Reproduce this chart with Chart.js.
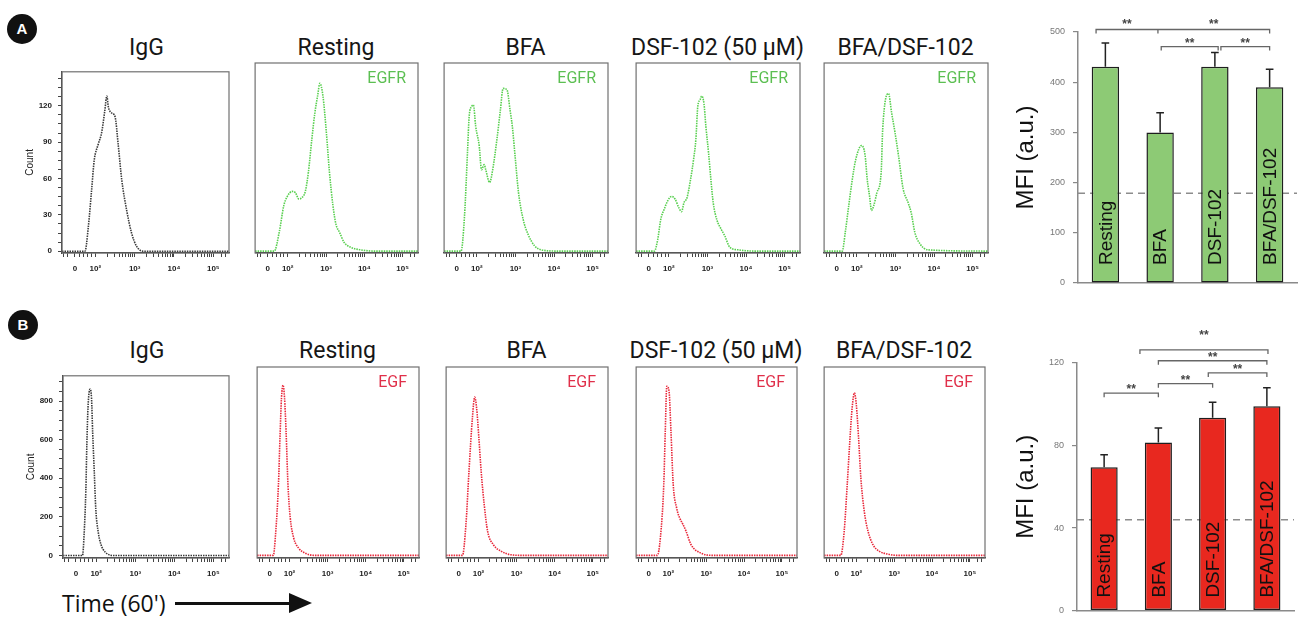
<!DOCTYPE html>
<html>
<head>
<meta charset="utf-8">
<script src="https://cdn.jsdelivr.net/npm/chart.js@4.4.1/dist/chart.umd.min.js"></script>
<style>
  body { margin: 0; background: #fff; }
  #fig { position: relative; width: 1300px; height: 624px; overflow: hidden; background: #fff; }
  .title { position: absolute; transform: translateX(-50%); white-space: nowrap; font: 23px Roboto, sans-serif; line-height: 23px; color: #161616; }
  .badge { position: absolute; width: 30px; height: 30px; border-radius: 50%; background: #111; color: #fff;
           font: bold 15px "Liberation Sans", Arial, sans-serif; line-height: 30px; text-align: center; }
  .time { position: absolute; left: 62px; top: 592px; font: 23px "Open Sans", sans-serif; line-height: 23px; color: #111; white-space: nowrap; }
  .arrow-line { position: absolute; left: 175px; top: 602px; width: 116px; height: 2.5px; background: #111; }
  .arrow-head { position: absolute; left: 289px; top: 593px; width: 0; height: 0;
                border-left: 23px solid #111; border-top: 10.5px solid transparent; border-bottom: 10.5px solid transparent; }
</style>
</head>
<body>
<div id="fig">
  <div class="badge" style="left:7px;top:14px">A</div>
  <div class="badge" style="left:8px;top:310px">B</div>
  <div class="time">Time (60')</div>
  <div class="arrow-line"></div>
  <div class="arrow-head"></div>
</div>
<script>
// ============================================================
// DATA
// ============================================================

// panel titles
const panelTitles = ['IgG', 'Resting', 'BFA', 'DSF-102 (50 µM)', 'BFA/DSF-102'];

// histogram x axis (display units: 2 = 10^2, 3 = 10^3 ...)
const xTickValues = [1.48, 2, 3, 4, 5];
const xTickLabels = ['0', '10²', '10³', '10⁴', '10⁵'];

// count axis of the IgG panels
const egfrCountTicks = [0, 30, 60, 90, 120];
const egfCountTicks = [0, 200, 400, 600, 800];

// --- row A : EGFR histograms ---
const egfrIgGX = [1.15, 1.6, 1.735, 1.82, 1.905, 1.97, 2.07, 2.16, 2.24, 2.29, 2.33, 2.415, 2.5, 2.58, 2.67, 2.8, 2.92, 3.05, 3.22, 5.4];
const egfrIgGCount = [0, 0, 0, 20, 51, 75, 88, 98, 116, 128, 119, 114, 111, 88, 59, 33, 15, 4, 0, 0];

const egfrRestingX = [1.15, 1.6, 1.65, 1.78, 1.9, 1.99, 2.12, 2.2, 2.29, 2.37, 2.46, 2.54, 2.63, 2.71, 2.78, 2.84, 2.92, 3.01, 3.09, 3.18, 3.26, 3.35, 3.47, 3.64, 3.9, 4.24, 5.4];
const egfrRestingCount = [0, 0, 0, 15, 36, 43, 47, 46, 41, 42, 47, 62, 88, 109, 122, 132, 122, 93, 62, 36, 21, 15, 7, 3, 1, 0, 0];

const egfrBfaX = [1.15, 1.55, 1.59, 1.68, 1.76, 1.8, 1.87, 1.91, 1.97, 2.06, 2.12, 2.19, 2.23, 2.33, 2.41, 2.52, 2.61, 2.68, 2.78, 2.86, 2.92, 2.99, 3.08, 3.2, 3.33, 3.5, 3.67, 4.09, 5.4];
const egfrBfaCount = [0, 0, 0, 28, 80, 106, 114, 115, 98, 83, 64, 68, 64, 54, 64, 88, 111, 128, 127, 111, 98, 75, 46, 25, 13, 4, 1, 0, 0];

const egfrDsfX = [1.15, 1.6, 1.625, 1.71, 1.79, 1.88, 1.96, 2.07, 2.16, 2.26, 2.33, 2.39, 2.47, 2.56, 2.64, 2.7, 2.75, 2.81, 2.85, 2.91, 2.96, 3.03, 3.09, 3.15, 3.24, 3.36, 3.45, 3.58, 3.79, 4.21, 5.4];
const egfrDsfCount = [0, 0, 0, 9, 25, 33, 39, 43, 41, 34, 31, 38, 42, 56, 72, 88, 114, 119, 122, 116, 98, 77, 56, 38, 25, 17, 12, 3, 1, 0, 0];

const egfrComboX = [1.15, 1.58, 1.62, 1.7, 1.79, 1.87, 1.97, 2.12, 2.21, 2.27, 2.33, 2.38, 2.44, 2.52, 2.63, 2.67, 2.82, 2.9, 2.99, 3.08, 3.2, 3.33, 3.41, 3.5, 3.63, 3.84, 5.4];
const egfrComboCount = [0, 0, 0, 15, 36, 54, 72, 83, 76, 56, 43, 32, 36, 46, 62, 96, 124, 109, 93, 75, 49, 38, 30, 15, 6, 1, 0];

// --- row B : EGF histograms ---
const egfIgGX = [1.15, 1.6, 1.65, 1.69, 1.735, 1.76, 1.79, 1.845, 1.88, 1.91, 1.95, 1.99, 2.05, 2.12, 2.24, 2.455, 5.4];
const egfIgGCount = [0, 0, 0, 107, 338, 569, 767, 862, 816, 635, 437, 239, 124, 58, 16, 0, 0];

const egfRestingX = [1.15, 1.55, 1.575, 1.64, 1.71, 1.75, 1.79, 1.83, 1.87, 1.91, 1.96, 2.02, 2.11, 2.24, 2.4, 2.66, 5.4];
const egfRestingCount = [0, 0, 0, 119, 350, 580, 778, 841, 778, 613, 350, 185, 86, 36, 12, 0, 0];

const egfBfaX = [1.15, 1.55, 1.58, 1.67, 1.75, 1.84, 1.9, 1.95, 2.01, 2.07, 2.15, 2.24, 2.39, 2.6, 2.85, 3.19, 5.4];
const egfBfaCount = [0, 0, 0, 152, 415, 679, 782, 729, 580, 415, 251, 119, 53, 20, 3, 0, 0];

const egfDsfX = [1.15, 1.68, 1.71, 1.79, 1.88, 1.92, 1.96, 2.02, 2.07, 2.13, 2.22, 2.3, 2.39, 2.47, 2.6, 2.85, 3.19, 5.4];
const egfDsfCount = [0, 0, 0, 86, 350, 613, 836, 811, 613, 350, 234, 185, 152, 119, 53, 12, 0, 0];

const egfComboX = [1.15, 1.56, 1.59, 1.68, 1.76, 1.845, 1.89, 1.95, 2.0, 2.06, 2.12, 2.21, 2.31, 2.44, 2.61, 2.82, 3.08, 5.4];
const egfComboCount = [0, 0, 0, 119, 350, 613, 729, 803, 745, 580, 383, 218, 119, 53, 20, 7, 0, 0];

// --- MFI bar charts ---
const groups = ['Resting', 'BFA', 'DSF-102', 'BFA/DSF-102'];

const egfrMfi = [431, 300, 431, 390];
const egfrSem = [47, 39, 28, 36];
const egfrIgGLevel = 179;
const egfrSigFrom = [-0.17, 0.96, 1.02, 2.11];
const egfrSigTo = [0.96, 3.0, 2.06, 3.0];
const egfrSigAt = [505, 505, 471, 471];
const egfrStarAt = [520, 520, 483, 483];

const egfMfi = [69.5, 81.5, 93.5, 99];
const egfSem = [6, 7, 7.5, 9];
const egfIgGLevel = 44;
const egfSigFrom = [0, 1, 1.92, 1, 0.66];
const egfSigTo = [1, 2, 3, 3, 3.02];
const egfSigAt = [105.4, 110, 115.2, 121.1, 126.4];
const egfStarAt = [108.4, 113, 118.3, 124.2, 134.6];

// ============================================================
// LAYOUT
// ============================================================
const rowA = { top: 63, h: 190, titleTop: 36, boxes: [[62, 167], [252, 166], [441, 167], [633, 167], [821, 167]] };
const rowB = { top: 367, h: 191, titleTop: 339, boxes: [[63, 166], [254, 165], [443, 165], [633, 164], [821, 164]] };

const GREEN_LINE = '#58cf4f';
const RED_LINE = '#e8283a';

Chart.defaults.font.family = '"Liberation Sans", Arial, sans-serif';

const fig = document.getElementById('fig');

function place(id, left, top, w, h) {
  const c = document.createElement('canvas');
  c.id = id;
  c.width = w;
  c.height = h;
  c.style.cssText = `position:absolute;left:${left}px;top:${top}px;width:${w}px;height:${h}px`;
  fig.appendChild(c);
  return c;
}

function addTitle(text, cx, top) {
  const d = document.createElement('div');
  d.className = 'title';
  d.style.left = cx + 'px';
  d.style.top = top + 'px';
  d.textContent = text;
  fig.appendChild(d);
}

// x tick marks: majors plus minor log ticks
const xTickMarks = [1.2, 1.3, 1.48, 1.6, 1.7, 1.8, 1.9];
[2, 3, 4].forEach(d => {
  xTickMarks.push(d);
  for (let k = 2; k <= 9; k++) xTickMarks.push(d + Math.log10(k));
});
xTickMarks.push(5, 5.2, 5.3);

// frame + marker tag
const framePlugin = {
  id: 'frame',
  afterDraw(chart, args, opts) {
    const { ctx, chartArea: a } = chart;
    ctx.save();
    ctx.strokeStyle = '#707070';
    ctx.lineWidth = 1.2;
    ctx.strokeRect(a.left, a.top, a.right - a.left, a.bottom - a.top);
    if (opts.tag) {
      ctx.fillStyle = opts.tagColor;
      ctx.font = '16px Roboto, sans-serif';
      ctx.textAlign = 'right';
      ctx.textBaseline = 'alphabetic';
      ctx.fillText(opts.tag, a.right - 12, a.top + 20);
    }
    ctx.restore();
  }
};

function histogram(id, box, row, xs, counts, cfg) {
  const padL = cfg.withAxis ? 42 : 2;
  const canvas = place(id, box[0] - padL, row.top - 2, padL + box[1] + 6, row.h + 2 + 32);
  new Chart(canvas, {
    type: 'line',
    data: {
      datasets: [{
        data: xs.map((x, i) => ({ x, y: counts[i] })),
        borderColor: cfg.color,
        borderWidth: 1.6,
        borderDash: [1.5, 1],
        pointRadius: 0,
        cubicInterpolationMode: 'monotone',
        fill: false
      }]
    },
    options: {
      responsive: false,
      animation: false,
      events: [],
      layout: { padding: { left: cfg.withAxis ? 0 : 2, top: 2, right: 6, bottom: 0 } },
      plugins: {
        legend: { display: false },
        tooltip: { enabled: false },
        frame: { tag: cfg.tag, tagColor: cfg.tagColor }
      },
      scales: {
        x: {
          type: 'linear', min: 1.15, max: 5.4,
          afterBuildTicks: s => { s.ticks = xTickMarks.map(v => ({ value: v })); },
          afterFit: s => { s.height = 32; },
          ticks: {
            autoSkip: false, maxRotation: 0, padding: 7,
            font: { size: 8, weight: 'bold' }, color: '#222',
            callback: v => { const k = xTickValues.indexOf(v); return k < 0 ? '' : xTickLabels[k]; }
          },
          grid: { drawOnChartArea: false, tickLength: 4, color: '#444' },
          border: { color: '#333', width: 1.2 }
        },
        y: {
          display: cfg.withAxis,
          min: cfg.yMin, max: cfg.yMax,
          afterBuildTicks: s => { s.ticks = cfg.yMarks.map(v => ({ value: v })); },
          afterFit: s => { s.width = cfg.withAxis ? 42 : 0; },
          title: { display: true, text: 'Count', font: { size: 10 }, color: '#222', padding: { top: 4, bottom: 0 } },
          ticks: {
            autoSkip: false, padding: 6, font: { size: 8, weight: 'bold' }, color: '#222',
            callback: v => cfg.yLabels.includes(v) ? String(v) : ''
          },
          grid: { drawOnChartArea: false, tickLength: 4, color: '#444' },
          border: { color: '#333', width: 1.2 }
        }
      }
    },
    plugins: [framePlugin]
  });
}

// minor count ticks (4 per labelled step)
const egfrCountMarks = [];
for (let v = 0; v <= 142.5; v += 7.5) egfrCountMarks.push(v);
const egfCountMarks = [];
for (let v = 0; v <= 900; v += 50) egfCountMarks.push(v);

const rowAData = [
  [egfrIgGX, egfrIgGCount], [egfrRestingX, egfrRestingCount], [egfrBfaX, egfrBfaCount],
  [egfrDsfX, egfrDsfCount], [egfrComboX, egfrComboCount]
];
const rowBData = [
  [egfIgGX, egfIgGCount], [egfRestingX, egfRestingCount], [egfBfaX, egfBfaCount],
  [egfDsfX, egfDsfCount], [egfComboX, egfComboCount]
];

rowAData.forEach(([xs, ys], i) => {
  const box = rowA.boxes[i];
  addTitle(panelTitles[i], box[0] + box[1] / 2 + 1, rowA.titleTop);
  histogram('histA' + i, box, rowA, xs, ys, {
    withAxis: i === 0,
    color: i === 0 ? '#3a3a3a' : GREEN_LINE,
    tag: i === 0 ? '' : 'EGFR', tagColor: '#5cbf52',
    yMin: -1.5, yMax: 148, yMarks: egfrCountMarks, yLabels: egfrCountTicks
  });
});

rowBData.forEach(([xs, ys], i) => {
  const box = rowB.boxes[i];
  addTitle(panelTitles[i], box[0] + box[1] / 2 + 1, rowB.titleTop);
  histogram('histB' + i, box, rowB, xs, ys, {
    withAxis: i === 0,
    color: i === 0 ? '#3a3a3a' : RED_LINE,
    tag: i === 0 ? '' : 'EGF', tagColor: '#e0304a',
    yMin: -13, yMax: 931, yMarks: egfCountMarks, yLabels: egfCountTicks
  });
});

// ============================================================
// MFI BAR CHARTS
// ============================================================
const barTextPlugin = {
  id: 'barText',
  afterDatasetsDraw(chart, args, opts) {
    const { ctx, scales: { x, y } } = chart;
    ctx.save();
    ctx.fillStyle = '#111';
    ctx.font = '19px "Liberation Sans", Arial, sans-serif';
    ctx.textAlign = 'left';
    ctx.textBaseline = 'middle';
    groups.forEach((g, i) => {
      ctx.save();
      ctx.translate(x.getPixelForValue(i) + 1, y.getPixelForValue(0) - opts.lift);
      ctx.rotate(-Math.PI / 2);
      ctx.fillText(g, 0, 0);
      ctx.restore();
    });
    ctx.font = 'bold 12px "Liberation Sans", Arial, sans-serif';
    ctx.fillStyle = '#444';
    ctx.textAlign = 'center';
    opts.from.forEach((f, k) => {
      ctx.fillText('**', x.getPixelForValue((f + opts.to[k]) / 2), y.getPixelForValue(opts.starAt[k]) + 3);
    });
    ctx.restore();
  }
};

function mfiChart(id, pos, cfg) {
  const canvas = place(id, pos.left, pos.top, pos.w, pos.h);

  // error bars: stem + cap, separated by gaps
  const errPts = [];
  cfg.mfi.forEach((v, i) => {
    const top = v + cfg.sem[i];
    errPts.push({ x: i, y: v }, { x: i, y: top }, { x: i, y: null },
                { x: i - 0.07, y: top }, { x: i + 0.07, y: top }, { x: i, y: null });
  });

  // significance brackets
  const sigPts = [];
  cfg.sigFrom.forEach((f, k) => {
    const t = cfg.sigTo[k], h = cfg.sigAt[k];
    sigPts.push({ x: f, y: h - cfg.leg }, { x: f, y: h }, { x: t, y: h }, { x: t, y: h - cfg.leg }, { x: t, y: null });
  });

  new Chart(canvas, {
    type: 'bar',
    data: {
      datasets: [
        {
          type: 'bar',
          data: cfg.mfi.map((v, i) => ({ x: i, y: v })),
          backgroundColor: cfg.fill,
          borderColor: '#1e1e1e',
          borderWidth: 1.5,
          borderSkipped: false,
          barPercentage: 0.5,
          categoryPercentage: 1,
          order: 3
        },
        {
          type: 'line',
          data: [{ x: -0.5, y: cfg.igg }, { x: 3.5, y: cfg.igg }],
          borderColor: '#8c8c8c',
          borderWidth: 1.5,
          borderDash: [7, 5],
          pointRadius: 0,
          order: 4
        },
        {
          type: 'line',
          data: errPts,
          borderColor: '#222',
          borderWidth: 1.5,
          pointRadius: 0,
          spanGaps: false,
          order: 1
        },
        {
          type: 'line',
          data: sigPts,
          borderColor: '#666',
          borderWidth: 1.3,
          pointRadius: 0,
          spanGaps: false,
          clip: false,
          order: 0
        }
      ]
    },
    options: {
      responsive: false,
      animation: false,
      events: [],
      layout: { padding: { left: 0, top: pos.padTop, right: pos.padRight, bottom: pos.padBottom } },
      plugins: {
        legend: { display: false },
        tooltip: { enabled: false },
        barText: { lift: cfg.lift, from: cfg.sigFrom, to: cfg.sigTo, starAt: cfg.starAt }
      },
      scales: {
        x: {
          type: 'linear', min: -0.5, max: 3.5, offset: false,
          display: pos.xAxis,
          afterFit: s => { s.height = pos.xHeight; },
          ticks: { display: false },
          grid: { display: false },
          border: { color: '#8a8a8a', width: 1.5 }
        },
        y: {
          min: 0, max: cfg.max,
          afterFit: s => { s.width = pos.yWidth; },
          title: { display: true, text: 'MFI (a.u.)', font: { size: 24 }, color: '#111', padding: { top: 12, bottom: 0 } },
          ticks: { stepSize: cfg.step, padding: 8, font: { size: 9 }, color: '#777' },
          grid: { drawOnChartArea: false, tickLength: 5, color: '#888', lineWidth: 1.2 },
          border: { color: '#8a8a8a', width: 1.5 }
        }
      }
    },
    plugins: [barTextPlugin]
  });
}

mfiChart('mfiA',
  { left: 1000, top: 0, w: 300, h: 300, padTop: 32, padRight: 3, padBottom: 0, xAxis: true, xHeight: 17, yWidth: 78 },
  { mfi: egfrMfi, sem: egfrSem, igg: egfrIgGLevel, sigFrom: egfrSigFrom, sigTo: egfrSigTo, sigAt: egfrSigAt,
    starAt: egfrStarAt, leg: 8, max: 500, step: 100, fill: '#8dca75', lift: 18 });

mfiChart('mfiB',
  { left: 1000, top: 300, w: 300, h: 324, padTop: 63, padRight: 6, padBottom: 0, xAxis: true, xHeight: 3, yWidth: 77 },
  { mfi: egfMfi, sem: egfSem, igg: egfIgGLevel, sigFrom: egfSigFrom, sigTo: egfSigTo, sigAt: egfSigAt,
    starAt: egfStarAt, leg: 2, max: 120, step: 40, fill: '#e8281f', lift: 13 });
</script>
</body>
</html>
